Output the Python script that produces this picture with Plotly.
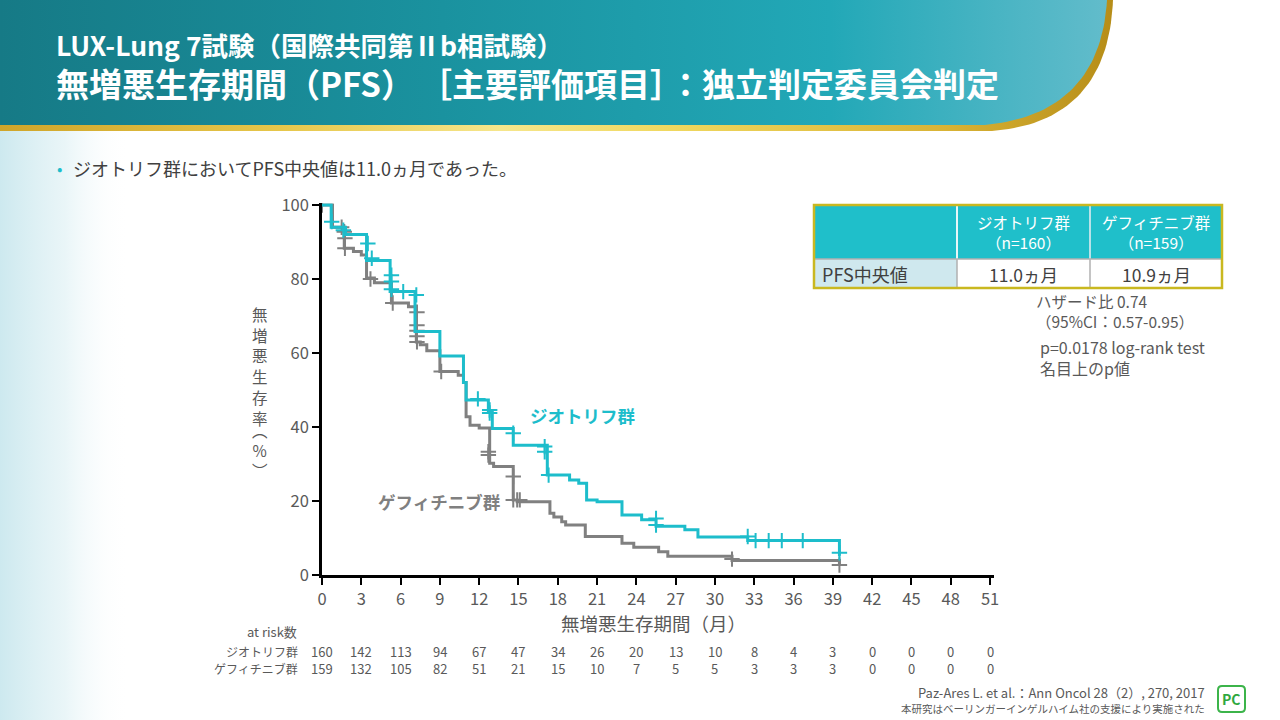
import plotly.graph_objects as go

# ---------------- data ----------------
risk_months = [0, 3, 6, 9, 12, 15, 18, 21, 24, 27, 30, 33, 36, 39, 42, 45, 48, 51]
afatinib_at_risk = [160, 142, 113, 94, 67, 47, 34, 26, 20, 13, 10, 8, 4, 3, 0, 0, 0, 0]
gefitinib_at_risk = [159, 132, 105, 82, 51, 21, 15, 10, 7, 5, 5, 3, 3, 3, 0, 0, 0, 0]

afatinib_time = [0, 0.7, 1.8, 3.4, 5.2, 7.1, 9.0, 10.8, 11.0, 12.7, 13.0, 14.6, 17.2,
                 18.9, 19.6, 20.2, 21.0, 22.9, 24.4, 25.5, 27.7, 28.7, 32.5, 39.5, 39.6]
afatinib_surv = [100, 94, 92, 85, 76.6, 65.8, 59.2, 52, 47.3, 44, 39.6, 35.1, 27,
                 25.7, 24.8, 20.3, 19.8, 16.2, 14.9, 13.2, 12.2, 10.3, 9.3, 5.5, 5.5]
afatinib_cens_time = [0.74, 1.63, 3.5, 3.8, 5.3, 5.3, 5.3, 6.2, 7.2, 11.9, 12.8, 12.8,
                      14.6, 17.0, 17.0, 17.3, 25.5, 25.5, 32.5, 33.1, 34.1, 35.1, 36.7, 39.5]
afatinib_cens_surv = [95.5, 93.2, 89.6, 85.6, 81, 79.3, 77.2, 76.6, 75.7, 47.6, 44.6, 43.8,
                      38.3, 34.7, 33.3, 27, 15.3, 13.5, 10.4, 9.3, 9.3, 9.3, 9.3, 6]

gefitinib_time = [0, 0.8, 1.7, 2.4, 3.0, 3.4, 4.0, 5.3, 6.6, 7.2, 7.5, 8.0, 9.0, 10.4,
                  10.8, 11.0, 11.3, 12.0, 12.8, 13.1, 14.6, 14.9, 17.4, 17.7, 18.3, 18.6,
                  20.1, 22.9, 23.8, 25.7, 26.4, 31.3, 39.5, 39.6]
gefitinib_surv = [100, 94, 88.3, 87.4, 86.5, 80.3, 79, 73.5, 72.5, 63, 62.2, 60.6, 55, 54,
                  52, 42.8, 40.5, 39.7, 30.2, 29.3, 20.3, 19.8, 16.7, 15.7, 14.4, 13.5,
                  10.4, 8.6, 7.5, 6.3, 5.1, 3.9, 3.0, 3.0]
gefitinib_cens_time = [0, 1.5, 1.7, 1.75, 1.75, 3.7, 5.4, 7.25, 7.25, 7.25, 7.25, 7.25,
                       9.1, 12.7, 12.7, 14.6, 14.6, 14.9, 15.1, 31.3, 39.5]
gefitinib_cens_surv = [100, 94, 92.8, 91, 88.3, 80, 73.5, 71, 67.5, 66, 64.5, 63,
                       55, 33.3, 32.4, 26.6, 20.3, 20.3, 20.3, 4.3, 2.7]

y_ticks = [0, 20, 40, 60, 80, 100]
y_title_chars = list("無増悪生存率")

table_header = ["ジオトリフ群<br>（n=160）", "ゲフィチニブ群<br>（n=159）"]
table_row_label = "PFS中央値"
table_values = ["11.0ヵ月", "10.9ヵ月"]

CYAN = "#1dbdcb"
GRAY = "#808080"
TXT = "#595959"
FONT = "Noto Sans CJK JP"

# ---------------- helpers ----------------
def bez(p0, p1, p2, n=40):
    pts = []
    for i in range(n + 1):
        t = i / n
        x = (1 - t) ** 2 * p0[0] + 2 * (1 - t) * t * p1[0] + t ** 2 * p2[0]
        y = (1 - t) ** 2 * p0[1] + 2 * (1 - t) * t * p1[1] + t ** 2 * p2[1]
        pts.append((x, y))
    return pts

def header_poly(xr, yb, ctrl, endx):
    pts = [(0, 0), (xr, 0)] + bez((xr, 0), ctrl, (endx, yb)) + [(0, yb), (0, 0)]
    return [p[0] for p in pts], [p[1] for p in pts]

fig = go.Figure()

# left light band
fig.add_trace(go.Scatter(
    x=[0, 130, 130, 0, 0], y=[128, 128, 720, 720, 128], mode="lines",
    line=dict(width=0), fill="toself",
    fillgradient=dict(type="horizontal",
                      colorscale=[[0, "rgba(205,233,239,1)"], [0.5, "rgba(228,243,246,0.8)"],
                                  [1, "rgba(255,255,255,0)"]]),
    hoverinfo="skip", xaxis="x", yaxis="y"))

# gold header border
gx, gy = header_poly(1113, 131, (1108, 122), 992)
fig.add_trace(go.Scatter(
    x=gx, y=gy, mode="lines", line=dict(width=0), fill="toself",
    fillgradient=dict(type="horizontal",
                      colorscale=[[0, "#cfa52a"], [0.25, "#e6c64a"], [0.45, "#f6e68c"],
                                  [0.6, "#f0d860"], [0.85, "#d9b335"], [1, "#b68d18"]]),
    hoverinfo="skip", xaxis="x", yaxis="y"))

# teal header
tx, ty = header_poly(1107, 125, (1100, 114), 985)
fig.add_trace(go.Scatter(
    x=tx, y=ty, mode="lines", line=dict(width=0), fill="toself",
    fillgradient=dict(type="horizontal",
                      colorscale=[[0, "#167a86"], [0.4, "#1a929f"], [0.75, "#22a8b7"],
                                  [1, "#62bccb"]]),
    hoverinfo="skip", xaxis="x", yaxis="y"))

# KM curves
fig.add_trace(go.Scatter(x=gefitinib_time, y=gefitinib_surv, mode="lines",
                         line=dict(color=GRAY, width=3, shape="hv"),
                         xaxis="x2", yaxis="y2", hoverinfo="skip"))
fig.add_trace(go.Scatter(x=gefitinib_cens_time, y=gefitinib_cens_surv, mode="markers",
                         marker=dict(symbol="cross-thin", size=11, line=dict(color=GRAY, width=2)),
                         xaxis="x2", yaxis="y2", hoverinfo="skip"))
fig.add_trace(go.Scatter(x=afatinib_time, y=afatinib_surv, mode="lines",
                         line=dict(color=CYAN, width=3, shape="hv"),
                         xaxis="x2", yaxis="y2", hoverinfo="skip"))
fig.add_trace(go.Scatter(x=afatinib_cens_time, y=afatinib_cens_surv, mode="markers",
                         marker=dict(symbol="cross-thin", size=11, line=dict(color=CYAN, width=2)),
                         xaxis="x2", yaxis="y2", hoverinfo="skip"))

ann = []
def A(text, x, y, size, color=TXT, xanchor="left", yanchor="middle", xref="x", yref="y", **kw):
    kw.setdefault("borderpad", 0)
    ann.append(dict(text=text, x=x, y=y, xref=xref, yref=yref, showarrow=False,
                    xanchor=xanchor, yanchor=yanchor,
                    font=dict(family=FONT, size=size, color=color), **kw))

# header titles
A("<b>LUX-Lung 7試験（国際共同第Ⅱb相試験）</b>", 55, 44, 26.5, "white")
A("<b>無増悪生存期間（PFS）</b>", 55, 83, 33, "white")
A("<b>［主要評価項目］</b>", 418, 83, 33, "white")
A("<b>：独立判定委員会判定</b>", 668, 83, 33, "white")

# bullet
A("•", 56, 168, 16, CYAN)
A("ジオトリフ群においてPFS中央値は11.0ヵ月であった。", 72, 168, 18, "#404040")

# axis titles (vertical writing, one character per line)
for i, ch in enumerate(y_title_chars):
    A(ch, 260, 314 + 20.7 * i, 15.5, TXT, xanchor="center")
A("︵<br>%<br>︶", 260, 450, 15.5, TXT, xanchor="center")
A("無増悪生存期間（月）", 653, 623, 18.5, TXT, xanchor="center")

# curve labels
A("<b>ジオトリフ群</b>", 582, 415, 17.5, CYAN, xanchor="center")
A("<b>ゲフィチニブ群</b>", 439, 501, 17.5, GRAY, xanchor="center", bgcolor="white")

# at risk
A("at risk数", 298, 631, 13, TXT, xanchor="right")
A("ジオトリフ群", 299, 651, 12, TXT, xanchor="right")
A("ゲフィチニブ群", 299, 668, 12, TXT, xanchor="right")
for m, a, g in zip(risk_months, afatinib_at_risk, gefitinib_at_risk):
    A(str(a), m, 651, 13, TXT, xanchor="center", xref="x2")
    A(str(g), m, 668, 13, TXT, xanchor="center", xref="x2")

# table
shapes = []
def R(x0, y0, x1, y1, fill=None, lc=None, lw=0):
    shapes.append(dict(type="rect", xref="x", yref="y", x0=x0, y0=y0, x1=x1, y1=y1,
                       fillcolor=fill if fill else "rgba(0,0,0,0)",
                       line=dict(color=lc if lc else "rgba(0,0,0,0)", width=lw), layer="above"))
def L(x0, y0, x1, y1, c, w):
    shapes.append(dict(type="line", xref="x", yref="y", x0=x0, y0=y0, x1=x1, y1=y1,
                       line=dict(color=c, width=w), layer="above"))

R(814, 205, 1222, 259, "#1fbfca")
R(814, 259, 957, 288, "#cfe8ee")
R(957, 259, 1222, 288, "white")
L(957, 205, 957, 259, "#e8f6f8", 2)
L(1090, 205, 1090, 259, "#b8e2e8", 2)
L(814, 259, 1222, 259, "#b0b0b0", 1.5)
L(957, 259, 957, 288, "#b0b0b0", 1.5)
L(1090, 259, 1090, 288, "#b0b0b0", 1.5)
R(814, 205, 1222, 288, None, "#c9b820", 2.5)

A(table_header[0], 1023, 232, 15.5, "white", xanchor="center")
A(table_header[1], 1156, 232, 15.5, "white", xanchor="center")
A(table_row_label, 821, 274, 18, "#404040")
A(table_values[0], 1023, 274, 17.5, "#404040", xanchor="center")
A(table_values[1], 1156, 274, 17.5, "#404040", xanchor="center")

A("ハザード比 0.74<br>（95%CI：0.57-0.95）", 1035, 311, 15.5, TXT, align="left")
A("p=0.0178 log-rank test<br>名目上のp値", 1039, 357.5, 16, TXT, align="left")

# footer
A("Paz-Ares L. et al.：Ann Oncol 28（2）, 270, 2017", 1206, 692.5, 13, TXT, xanchor="right")
A("本研究はベーリンガーインゲルハイム社の支援により実施された", 1206, 708, 10.5, TXT, xanchor="right")
shapes.append(dict(type="path", xref="x", yref="y",
                   path="M 1222,686 L 1241,686 Q 1245,686 1245,690 L 1245,708 Q 1245,712 1241,712 "
                        "L 1222,712 Q 1218,712 1218,708 L 1218,690 Q 1218,686 1222,686 Z",
                   line=dict(color="#3cb44a", width=2), fillcolor="white", layer="above"))
A("<b>PC</b>", 1231.5, 699, 14, "#2fa83f", xanchor="center")

axis_common = dict(showgrid=False, zeroline=False, showline=True, linecolor="black",
                   linewidth=2.5, ticks="outside", ticklen=7, tickwidth=2, tickcolor="black",
                   tickfont=dict(family=FONT, size=16.5, color=TXT), fixedrange=True,
                   automargin=False)

fig.update_layout(
    autosize=True, margin=dict(l=0, r=0, t=0, b=0, autoexpand=False),
    paper_bgcolor="white", plot_bgcolor="rgba(0,0,0,0)", showlegend=False,
    xaxis=dict(domain=[0, 1], range=[0, 1280], visible=False, fixedrange=True, automargin=False),
    yaxis=dict(domain=[0, 1], range=[720, 0], visible=False, fixedrange=True, automargin=False),
    xaxis2=dict(domain=[322 / 1280, 994 / 1280], range=[0, 51.3], anchor="y2",
                tickvals=risk_months, **axis_common),
    yaxis2=dict(domain=[145 / 720, (720 - 203.15) / 720], range=[0, 100.5], anchor="x2",
                tickvals=y_ticks, **axis_common),
    annotations=ann, shapes=shapes,
)

# fixed 1280x720 page box, pinned to the top-left corner of the page
fig.write_html("out.html", config=dict(displayModeBar=False, responsive=True),
               default_width="1280px; position:absolute; left:0; top:0",
               default_height="720px")
